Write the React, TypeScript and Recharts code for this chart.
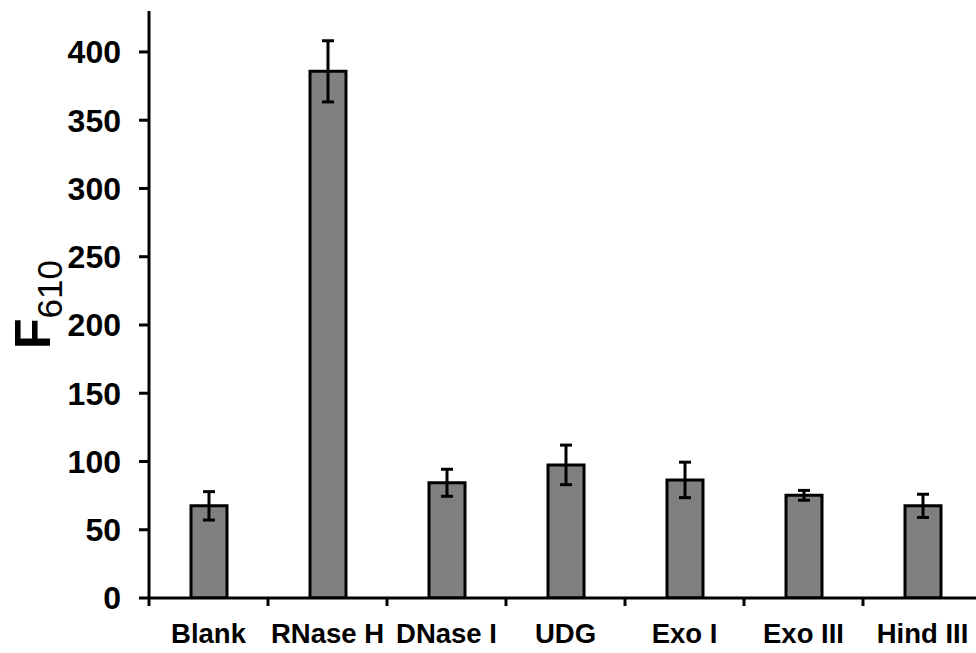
import React from 'react';
import { BarChart, Bar, XAxis, YAxis, ErrorBar } from 'recharts';

const categories = ['Blank', 'RNase H', 'DNase I', 'UDG', 'Exo I', 'Exo III', 'Hind III'];
const values = [67.5, 385.8, 84.4, 97.5, 86.5, 75.2, 67.5];
const errors = [10.4, 22.4, 9.9, 14.5, 13.0, 3.6, 8.5];
const yTicks = [0, 50, 100, 150, 200, 250, 300, 350, 400];

const data = categories.map((name, i) => ({ name, value: values[i], err: errors[i] }));

const CHART_W = 1000;
const CHART_H = 653;
const Y_AXIS_W = 149;
const MARGIN_RIGHT = 18;
const PLOT_W = CHART_W - Y_AXIS_W - MARGIN_RIGHT;
const X_TICK_SIZE = 8;
const X_TICK_MARGIN = 2;
const FONT = '"Liberation Sans", Arial, sans-serif';

const XTick = (props: any) => {
  const { x, y, payload } = props;
  const half = payload && payload.offset ? payload.offset : PLOT_W / categories.length / 2;
  const axisY = y - X_TICK_SIZE - X_TICK_MARGIN;
  return (
    <g>
      <line x1={x - half} x2={x - half} y1={axisY} y2={axisY + X_TICK_SIZE} stroke="#000" strokeWidth={3} />
      <text x={x} y={y} dy={35} textAnchor="middle" fontFamily={FONT} fontWeight="bold" fontSize={27.5} fill="#000">
        {payload.value}
      </text>
    </g>
  );
};

const YLabel = (props: any) => {
  const vb = props.viewBox || { x: 0, y: 0, width: 0, height: 0 };
  const cy = vb.y + vb.height / 2;
  const cx = 50;
  return (
    <text
      x={cx}
      y={cy}
      transform={`rotate(-90, ${cx}, ${cy})`}
      textAnchor="middle"
      fontFamily={FONT}
      fill="#000"
    >
      <tspan fontWeight="bold" fontSize={50}>F</tspan>
      <tspan fontSize={35} dy={12}>610</tspan>
    </text>
  );
};

export default function App() {
  return (
    <div style={{ position: 'absolute', left: 0, top: 0, width: 976, height: 653, overflow: 'hidden', background: '#fff' }}>
      <BarChart
        width={CHART_W}
        height={CHART_H}
        data={data}
        margin={{ top: 11, right: MARGIN_RIGHT, left: 0, bottom: 0 }}
      >
        <XAxis
          dataKey="name"
          height={55}
          interval={0}
          tickLine={false}
          tickSize={X_TICK_SIZE}
          tickMargin={X_TICK_MARGIN}
          axisLine={{ stroke: '#000', strokeWidth: 3 }}
          tick={<XTick />}
        />
        <YAxis
          width={Y_AXIS_W}
          domain={[0, 430]}
          ticks={yTicks}
          interval={0}
          allowDataOverflow
          tickSize={10}
          tickMargin={18}
          axisLine={{ stroke: '#000', strokeWidth: 3 }}
          tickLine={{ stroke: '#000', strokeWidth: 3 }}
          tick={{ fill: '#000', fontSize: 32, fontWeight: 'bold', fontFamily: FONT }}
          label={{ content: <YLabel /> }}
        />
        <Bar dataKey="value" fill="#808080" stroke="#000" strokeWidth={3} barSize={36} isAnimationActive={false}>
          <ErrorBar dataKey="err" width={6} stroke="#000" strokeWidth={3} direction="y" />
        </Bar>
      </BarChart>
    </div>
  );
}
